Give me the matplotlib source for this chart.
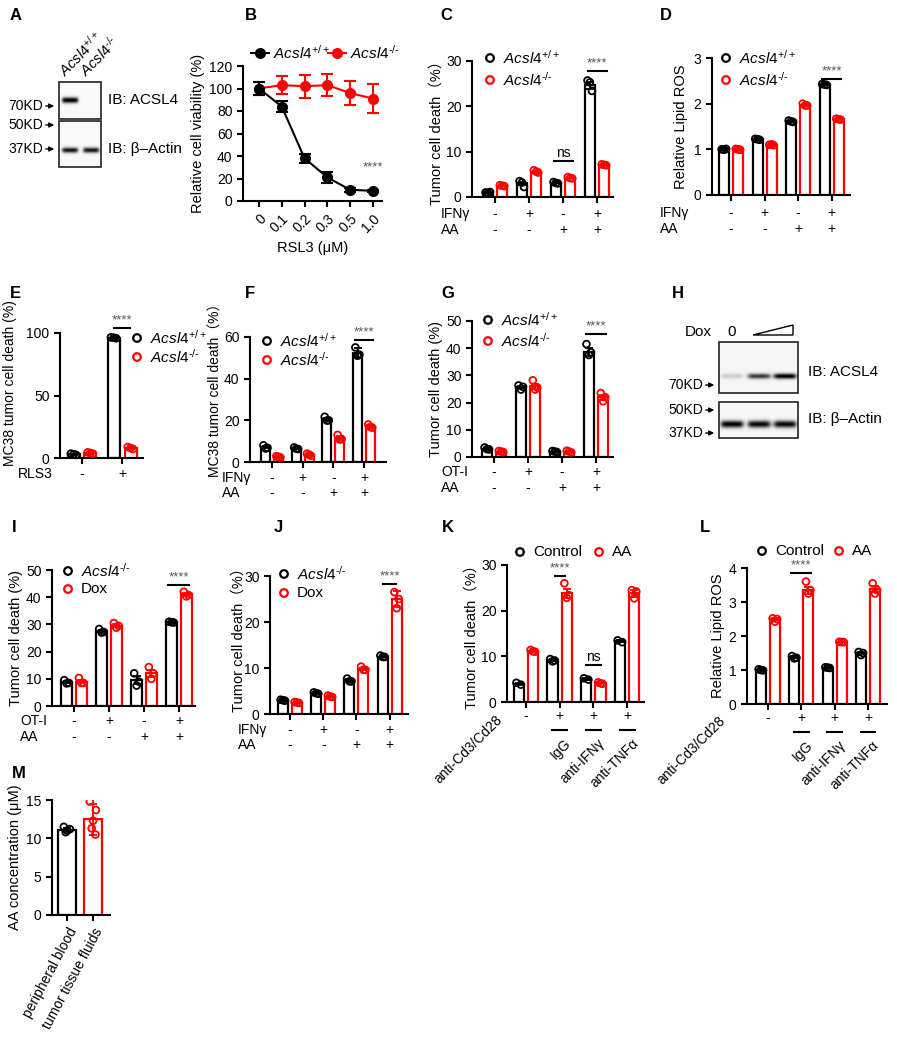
import numpy as np
import matplotlib
matplotlib.use('Agg')
import matplotlib.pyplot as plt
from matplotlib.patches import Rectangle, Polygon

plt.rcParams['font.family'] = ['Liberation Sans', 'Noto Sans CJK SC', 'DejaVu Sans']
plt.rcParams['mathtext.fontset'] = 'custom'
plt.rcParams['mathtext.rm'] = 'Liberation Sans'
plt.rcParams['mathtext.it'] = 'Liberation Sans:italic'
plt.rcParams['font.size'] = 10
plt.rcParams['axes.linewidth'] = 1.5

# ---------------- data ----------------
WT = r'$\mathit{Acsl4}^{+/+}$'
KO = '$\\mathit{Acsl4}^{\u2010/\u2010}$'

# B
b_dose = ['0', '0.1', '0.2', '0.3', '0.5', '1.0']
b_wt = [100, 84, 38, 21, 10, 9]
b_wt_err = [6, 5, 4, 5, 2, 1]
b_ko = [100, 103, 102, 103, 96, 91]
b_ko_err = [6, 8, 10, 10, 11, 13]

# C
c_wt = [1.0, 3.0, 3.1, 24.6]
c_wt_err = [0.1, 0.4, 0.1, 0.7]
c_wt_pts = [[1.0, 1.1, 0.9], [3.5, 2.2, 3.2], [3.3, 3.0, 3.1], [25.7, 23.4, 25.3]]
c_ko = [2.5, 5.6, 4.2, 7.1]
c_ko_err = [0.1, 0.2, 0.1, 0.1]
c_ko_pts = [[2.6, 2.4, 2.5], [5.9, 5.4, 5.6], [4.4, 4.1, 4.2], [7.2, 7.0, 7.1]]

# D
d_wt = [1.0, 1.22, 1.61, 2.42]
d_wt_err = [0.02, 0.02, 0.02, 0.02]
d_wt_pts = [[1.0, 1.01, 0.99], [1.23, 1.21, 1.22], [1.63, 1.6, 1.61], [2.43, 2.41, 2.42]]
d_ko = [1.0, 1.1, 1.97, 1.66]
d_ko_err = [0.02, 0.02, 0.02, 0.02]
d_ko_pts = [[1.01, 0.99, 1.0], [1.1, 1.09, 1.11], [2.0, 1.96, 1.96], [1.67, 1.65, 1.66]]

# E
e_wt = [3, 96]
e_wt_err = [0.5, 0.5]
e_wt_pts = [[3.5, 2.5, 3.0], [96.5, 95.8, 96.2]]
e_ko = [4, 8]
e_ko_err = [0.5, 0.8]
e_ko_pts = [[4.5, 3.5, 4.0], [8.8, 7.2, 8.0]]

# F
f_wt = [7, 6.5, 20.5, 52.5]
f_wt_err = [0.5, 0.4, 0.6, 2.2]
f_wt_pts = [[8.0, 6.8, 6.5], [7.0, 6.2, 6.4], [21.7, 20.0, 19.9], [55.0, 51.5, 51.0]]
f_ko = [2.5, 3.5, 11.5, 17]
f_ko_err = [0.3, 0.4, 0.9, 0.6]
f_ko_pts = [[2.8, 2.2, 2.5], [4.0, 3.0, 3.5], [13.0, 11.0, 10.8], [18.0, 16.5, 16.8]]

# G
g_wt = [3, 25.8, 2, 38.5]
g_wt_err = [0.3, 0.4, 0.2, 1.5]
g_wt_pts = [[3.5, 2.8, 2.9], [26.3, 25.8, 24.8], [2.2, 1.8, 2.0], [41.5, 38.5, 37.5]]
g_ko = [2, 26, 2, 22]
g_ko_err = [0.2, 1.0, 0.2, 0.9]
g_ko_pts = [[2.2, 1.8, 2.0], [28.2, 25.5, 24.8], [2.3, 1.7, 2.0], [23.5, 22.0, 20.5]]

# I
i_ko = [8.8, 27.5, 9.5, 30.8]
i_ko_err = [0.4, 0.5, 1.5, 0.2]
i_ko_pts = [[9.5, 8.5, 8.3], [28.3, 27.2, 27.0], [12.0, 9.0, 7.5], [31.0, 30.7, 30.8]]
i_dox = [9, 29.5, 12, 41]
i_dox_err = [0.6, 0.6, 1.2, 0.5]
i_dox_pts = [[10.3, 8.5, 8.5], [30.5, 29.5, 28.8], [14.3, 12.0, 10.0], [42.0, 40.8, 40.3]]

# J
j_ko = [3, 4.5, 7.3, 12.5]
j_ko_err = [0.2, 0.2, 0.3, 0.2]
j_ko_pts = [[3.1, 2.9, 3.0], [4.7, 4.4, 4.5], [7.7, 7.1, 7.1], [12.7, 12.4, 12.4]]
j_dox = [2.5, 3.8, 9.8, 25]
j_dox_err = [0.1, 0.2, 0.3, 1.8]
j_dox_pts = [[2.6, 2.4, 2.5], [4.0, 3.7, 3.8], [10.3, 9.6, 9.6], [26.5, 25.0, 23.0]]

# K
k_ctrl = [4, 9.2, 5, 13.3]
k_ctrl_err = [0.2, 0.2, 0.2, 0.2]
k_ctrl_pts = [[4.2, 3.8], [9.4, 9.1, 8.9], [5.2, 4.9], [13.5, 13.1]]
k_aa = [11.2, 23.8, 4.2, 23.8]
k_aa_err = [0.2, 1.0, 0.1, 0.7]
k_aa_pts = [[11.4, 11.0, 11.1], [26.0, 23.4, 22.8], [4.3, 4.0, 4.1], [24.5, 24.2, 22.7]]

# L
l_ctrl = [1.0, 1.38, 1.07, 1.5]
l_ctrl_err = [0.02, 0.03, 0.01, 0.03]
l_ctrl_pts = [[1.02, 0.99, 1.0], [1.41, 1.36, 1.34], [1.08, 1.06, 1.07], [1.53, 1.5, 1.44]]
l_aa = [2.5, 3.35, 1.82, 3.38]
l_aa_err = [0.03, 0.1, 0.01, 0.1]
l_aa_pts = [[2.52, 2.5, 2.42], [3.6, 3.35, 3.25], [1.83, 1.82, 1.82], [3.55, 3.35, 3.25]]

# M
m_groups = ['peripheral blood', 'tumor tissue fluids']
m_vals = [11.1, 12.5]
m_err = [0.3, 2.0]
m_pts = [[11.5, 11.2, 11.0, 10.8], [14.8, 13.7, 12.3, 11.3, 10.5]]

# western blots: band intensity per lane
a_acsl4 = [1.0, 0.0]
a_actin = [0.9, 0.9]
h_acsl4 = [0.22, 0.75, 0.95]
h_actin = [0.95, 0.92, 0.92]

# ---------------- figure ----------------
W, H = 897, 1050
fig = plt.figure(figsize=(8.97, 10.5), dpi=100)
ov = fig.add_axes([0, 0, 1, 1], zorder=10)
ov.set_xlim(0, W)
ov.set_ylim(H, 0)
ov.axis('off')
ov.patch.set_alpha(0)

jit = [-0.07, 0.06, 0.0, -0.03, 0.05]
GRAY = '#555555'


def px_axes(l, t, r, b, xlim):
    ax = fig.add_axes([l / W, 1 - b / H, (r - l) / W, (b - t) / H])
    ax.set_xlim(*xlim)
    ax.spines[['top', 'right']].set_visible(False)
    ax.tick_params(width=1.5, length=4, labelsize=10, direction='out')
    ax.set_facecolor('none')
    ax.hpx = b - t
    return ax


def bars(ax, a, ae, ap, b, be, bp, ca='black', cb='red', off=0.21, w=0.3):
    x = np.arange(len(a))
    for o, vals, err, pts, c in [(-off, a, ae, ap, ca), (off, b, be, bp, cb)]:
        ax.bar(x + o, vals, width=w, facecolor='white', edgecolor=c, linewidth=1.6, zorder=2)
        ax.errorbar(x + o, vals, yerr=err, fmt='none', ecolor=c, elinewidth=1.3,
                    capsize=3, capthick=1.3, zorder=3)
        for xi, p in zip(x + o, pts):
            ax.scatter(xi + np.array(jit[:len(p)]) * w / 0.3, p, s=24, facecolors='none',
                       edgecolors=c, linewidths=1.3, zorder=4, clip_on=False)
    ax.set_xticks(x)
    ax.set_xticklabels([])


def sig(ax, i, y, txt='****', color=GRAY, half=0.28):
    ax.plot([i - half, i + half], [y, y], color='black', lw=1.5, clip_on=False)
    ax.annotate(txt, xy=(i, y), xytext=(0, 1), textcoords='offset points',
                ha='center', va='bottom', color=color, fontsize=10 if txt == 'ns' else 9.5,
                annotation_clip=False)


def rows(ax, rowlist, lab_x, axis_y, dys):
    for (lab, signs), dy in zip(rowlist, dys):
        for i, s in enumerate(signs):
            ax.annotate(s, xy=(i, 0), xycoords=('data', 'axes fraction'),
                        xytext=(0, -dy * 0.72), textcoords='offset points',
                        ha='center', va='center', fontsize=10)
        ov.text(lab_x, axis_y + dy, lab, ha='left', va='center', fontsize=10)


def legend_pt(x, y, color, txt, line=False, filled=False):
    if line:
        ov.plot([x - 9, x + 9], [y, y], color=color, lw=1.5)
    ov.scatter([x], [y], s=40 if filled else 30, facecolors=color if filled else 'none',
               edgecolors=color, linewidths=1.6)
    ov.text(x + 13, y, txt, ha='left', va='center', fontsize=11)


def letter(x, y, s):
    ov.text(x, y, s, fontsize=12, fontweight='bold', ha='left', va='center')


def blot(x0, x1, y0, y1, lanes, band_y, band_h, band_w, inten, bg=0.04):
    ny, nx = int((y1 - y0) * 3), int((x1 - x0) * 3)
    yy, xx = np.mgrid[0:ny, 0:nx]
    yy = y0 + yy / 3.0
    xx = x0 + xx / 3.0
    img = np.full((ny, nx), bg)
    for lx, v in zip(lanes, inten):
        img += v * np.exp(-((yy - band_y) / band_h) ** 2) * np.exp(-((xx - lx) / band_w) ** 6)
    ov.imshow(np.clip(img, 0, 1), cmap='Greys', vmin=0, vmax=1, extent=(x0, x1, y1, y0),
              origin='upper', aspect='auto', interpolation='bilinear')
    ov.add_patch(Rectangle((x0, y0), x1 - x0, y1 - y0, fill=False, lw=1.2, ec='#222222'))


def marker_lab(x_right, y, txt):
    ov.annotate('', xy=(x_right, y), xytext=(x_right - 14, y),
                arrowprops=dict(arrowstyle='-|>', lw=1, color='black', mutation_scale=7))
    ov.text(x_right - 14, y, txt, ha='right', va='center', fontsize=10)


# ---------------- A ----------------
letter(10, 16, 'A')
blot(59, 101, 82, 119, [70, 90], 100, 3.2, 8.5, a_acsl4)
blot(59, 101, 121, 167, [70, 91], 150, 3.0, 8.5, a_actin)
ov.text(108, 100, 'IB: ACSL4', va='center', fontsize=11)
ov.text(108, 149, 'IB: β–Actin', va='center', fontsize=11)
marker_lab(57, 106, '70KD')
marker_lab(57, 125, '50KD')
marker_lab(57, 149, '37KD')
ov.text(65, 77, WT, rotation=45, rotation_mode='anchor', fontsize=10.5)
ov.text(86, 77, KO, rotation=45, rotation_mode='anchor', fontsize=10.5)

# ---------------- B ----------------
letter(245, 16, 'B')
axB = px_axes(243, 66, 382, 201, (-0.7, 5.4))
xb = np.arange(len(b_dose))
axB.errorbar(xb, b_ko, yerr=b_ko_err, fmt='-o', color='red', ms=7, lw=1.5,
             elinewidth=1.5, capsize=4, capthick=1.5)
axB.errorbar(xb, b_wt, yerr=b_wt_err, fmt='-o', color='black', ms=7, lw=1.5,
             elinewidth=1.5, capsize=4, capthick=1.5)
axB.set_ylim(0, 120)
axB.set_yticks(range(0, 121, 20))
axB.set_xticks(xb)
axB.set_xticklabels(b_dose, rotation=45, ha='right', rotation_mode='anchor')
axB.set_xlabel('RSL3 (μM)', fontsize=10.5, labelpad=4)
axB.set_ylabel('Relative cell viability (%)', fontsize=10.5, labelpad=3)
axB.text(5, 30, '****', ha='center', va='center', color=GRAY, fontsize=9.5)
legend_pt(260, 53, 'black', WT, line=True, filled=True)
legend_pt(337, 53, 'red', KO, line=True, filled=True)

# ---------------- C ----------------
letter(440, 16, 'C')
axC = px_axes(472, 61, 613, 197, (-0.68, 3.47))
bars(axC, c_wt, c_wt_err, c_wt_pts, c_ko, c_ko_err, c_ko_pts)
axC.set_ylim(0, 30)
axC.set_yticks([0, 10, 20, 30])
axC.set_ylabel('Tumor cell death（%）', fontsize=10.5, labelpad=2)
sig(axC, 3, 27.8)
sig(axC, 2, 7.9, 'ns', color='black')
rows(axC, [('IFNγ', ['-', '+', '-', '+']), ('AA', ['-', '-', '+', '+'])], 441, 197, [17, 33])
legend_pt(490, 58, 'black', WT)
legend_pt(490, 80, 'red', KO)

# ---------------- D ----------------
letter(660, 16, 'D')
axD = px_axes(712, 58, 850, 195, (-0.57, 3.55))
bars(axD, d_wt, d_wt_err, d_wt_pts, d_ko, d_ko_err, d_ko_pts)
axD.set_ylim(0, 3)
axD.set_yticks([0, 1, 2, 3])
axD.set_ylabel('Relative Lipid ROS', fontsize=10.5, labelpad=4)
sig(axD, 3, 2.54)
rows(axD, [('IFNγ', ['-', '+', '-', '+']), ('AA', ['-', '-', '+', '+'])], 660, 195, [18, 34])
legend_pt(726, 58, 'black', WT)
legend_pt(726, 80, 'red', KO)

# ---------------- E ----------------
letter(10, 293, 'E')
axE = px_axes(60, 333, 143, 458, (-0.55, 1.52))
bars(axE, e_wt, e_wt_err, e_wt_pts, e_ko, e_ko_err, e_ko_pts)
axE.set_ylim(0, 100)
axE.set_yticks([0, 50, 100])
axE.set_ylabel('MC38 tumor cell death (%)', fontsize=10)
axE.yaxis.set_label_coords(-0.52, 0.6)
sig(axE, 1, 104, half=0.2)
rows(axE, [('RLS3', ['-', '+'])], 18, 458, [16])
legend_pt(137, 338, 'black', WT)
legend_pt(137, 357, 'red', KO)

# ---------------- F ----------------
letter(245, 293, 'F')
axF = px_axes(250, 337, 386, 462, (-0.72, 3.72))
bars(axF, f_wt, f_wt_err, f_wt_pts, f_ko, f_ko_err, f_ko_pts)
axF.set_ylim(0, 60)
axF.set_yticks([0, 20, 40, 60])
axF.set_ylabel('MC38 tumor cell death（%）', fontsize=10)
axF.yaxis.set_label_coords(-0.2, 0.6)
sig(axF, 3, 58.6)
rows(axF, [('IFNγ', ['-', '+', '-', '+']), ('AA', ['-', '-', '+', '+'])], 222, 462, [16, 31])
legend_pt(267, 341, 'black', WT)
legend_pt(267, 360, 'red', KO)

# ---------------- G ----------------
letter(441, 293, 'G')
axG = px_axes(472, 321, 613, 457, (-0.65, 3.5))
bars(axG, g_wt, g_wt_err, g_wt_pts, g_ko, g_ko_err, g_ko_pts)
axG.set_ylim(0, 50)
axG.set_yticks(range(0, 51, 10))
axG.set_ylabel('Tumor cell death (%)', fontsize=10.5, labelpad=2)
sig(axG, 3, 45.2)
rows(axG, [('OT-I', ['-', '+', '-', '+']), ('AA', ['-', '-', '+', '+'])], 441, 457, [15, 31])
legend_pt(488, 320, 'black', WT)
legend_pt(488, 341, 'red', KO)

# ---------------- H ----------------
letter(672, 293, 'H')
ov.text(685, 332, 'Dox', va='center', fontsize=11)
ov.text(732, 332, '0', va='center', ha='center', fontsize=11)
ov.add_patch(Polygon([(753, 335), (793, 335), (793, 325)], closed=True, fill=False, lw=1))
blot(719, 798, 342, 393, [732, 759, 785], 376, 3.0, 12, h_acsl4, bg=0.07)
blot(719, 798, 402, 438, [732, 759, 785], 424, 4.0, 12, h_actin, bg=0.06)
ov.text(808, 372, 'IB: ACSL4', va='center', fontsize=11)
ov.text(808, 419, 'IB: β–Actin', va='center', fontsize=11)
marker_lab(717, 385, '70KD')
marker_lab(717, 410, '50KD')
marker_lab(717, 433, '37KD')

# ---------------- I ----------------
letter(12, 527, 'I')
axI = px_axes(52, 570, 195, 706, (-0.63, 3.46))
bars(axI, i_ko, i_ko_err, i_ko_pts, i_dox, i_dox_err, i_dox_pts)
axI.set_ylim(0, 50)
axI.set_yticks(range(0, 51, 10))
axI.set_ylabel('Tumor cell death (%)', fontsize=10.5, labelpad=2)
sig(axI, 3, 44.5, half=0.3)
rows(axI, [('OT-I', ['-', '+', '-', '+']), ('AA', ['-', '-', '+', '+'])], 20, 706, [15, 31])
legend_pt(68, 571, 'black', KO)
legend_pt(68, 589, 'red', 'Dox')

# ---------------- J ----------------
letter(274, 527, 'J')
axJ = px_axes(270, 576, 408, 714, (-0.6, 3.55))
bars(axJ, j_ko, j_ko_err, j_ko_pts, j_dox, j_dox_err, j_dox_pts)
axJ.set_ylim(0, 30)
axJ.set_yticks([0, 10, 20, 30])
axJ.set_ylabel('Tumor cell death（%）', fontsize=10.5)
axJ.yaxis.set_label_coords(-0.18, 0.56)
sig(axJ, 3, 28.3, half=0.2)
rows(axJ, [('IFNγ', ['-', '+', '-', '+']), ('AA', ['-', '-', '+', '+'])], 238, 714, [16, 31])
legend_pt(284, 574, 'black', KO)
legend_pt(284, 593, 'red', 'Dox')


# ---------------- K / L ----------------
def cd3_rows(ax, lab_anchor):
    for i, s in enumerate(['-', '+', '+', '+']):
        ax.annotate(s, xy=(i, 0), xycoords=('data', 'axes fraction'),
                    xytext=(0, -14 * 0.72), textcoords='offset points',
                    ha='center', va='center', fontsize=10)
    yl = -28.0 / ax.hpx
    for i in [1, 2, 3]:
        ax.plot([i - 0.22, i + 0.22], [yl, yl], color='black', lw=1.5,
                transform=ax.get_xaxis_transform(), clip_on=False)
    for i, s in zip([1, 2, 3], ['IgG', 'anti-IFNγ', 'anti-TNFα']):
        ax.annotate(s, xy=(i + 0.12, 0), xycoords=('data', 'axes fraction'),
                    xytext=(0, -34 * 0.72), textcoords='offset points', rotation=45,
                    rotation_mode='anchor', ha='right', va='top', fontsize=10)
    ov.text(lab_anchor[0], lab_anchor[1], 'anti-Cd3/Cd28', rotation=45, rotation_mode='anchor',
            ha='right', va='center', fontsize=10)


letter(442, 527, 'K')
axK = px_axes(507, 565, 644, 702, (-0.56, 3.5))
bars(axK, k_ctrl, k_ctrl_err, k_ctrl_pts, k_aa, k_aa_err, k_aa_pts)
axK.set_ylim(0, 30)
axK.set_yticks([0, 10, 20, 30])
axK.set_ylabel('Tumor cell death（%）', fontsize=10.5, labelpad=2)
sig(axK, 1, 27.6, half=0.15)
sig(axK, 2, 8.1, 'ns', color='black', half=0.22)
cd3_rows(axK, (500, 718))
legend_pt(520, 552, 'black', 'Control')
legend_pt(599, 552, 'red', 'AA')

letter(700, 527, 'L')
axL = px_axes(747, 568, 887, 704, (-0.63, 3.57))
bars(axL, l_ctrl, l_ctrl_err, l_ctrl_pts, l_aa, l_aa_err, l_aa_pts)
axL.set_ylim(0, 4)
axL.set_yticks([0, 1, 2, 3, 4])
axL.set_ylabel('Relative Lipid ROS', fontsize=10.5, labelpad=3)
sig(axL, 1, 3.85, half=0.3)
cd3_rows(axL, (723, 719))
legend_pt(762, 551, 'black', 'Control')
legend_pt(839, 551, 'red', 'AA')

# ---------------- M ----------------
letter(12, 773, 'M')
axM = px_axes(52, 800, 110, 915, (-0.58, 1.65))
xm = np.arange(len(m_groups))
for i, c in zip(xm, ['black', 'red']):
    axM.bar(i, m_vals[i], width=0.7, facecolor='white', edgecolor=c, linewidth=1.6, zorder=2)
    axM.errorbar(i, m_vals[i], yerr=m_err[i], fmt='none', ecolor=c, elinewidth=1.3,
                 capsize=3, capthick=1.3, zorder=3)
    axM.scatter(i + np.array(jit[:len(m_pts[i])]) * 1.8, m_pts[i], s=24, facecolors='none',
                edgecolors=c, linewidths=1.3, zorder=4)
axM.set_ylim(0, 15)
axM.set_yticks([0, 5, 10, 15])
axM.set_xticks(xm)
axM.set_xticklabels(m_groups, rotation=62, ha='right', rotation_mode='anchor')
axM.set_ylabel('AA concentration (μM)', fontsize=10.5, labelpad=3)

fig.savefig('out.png', dpi=100)
